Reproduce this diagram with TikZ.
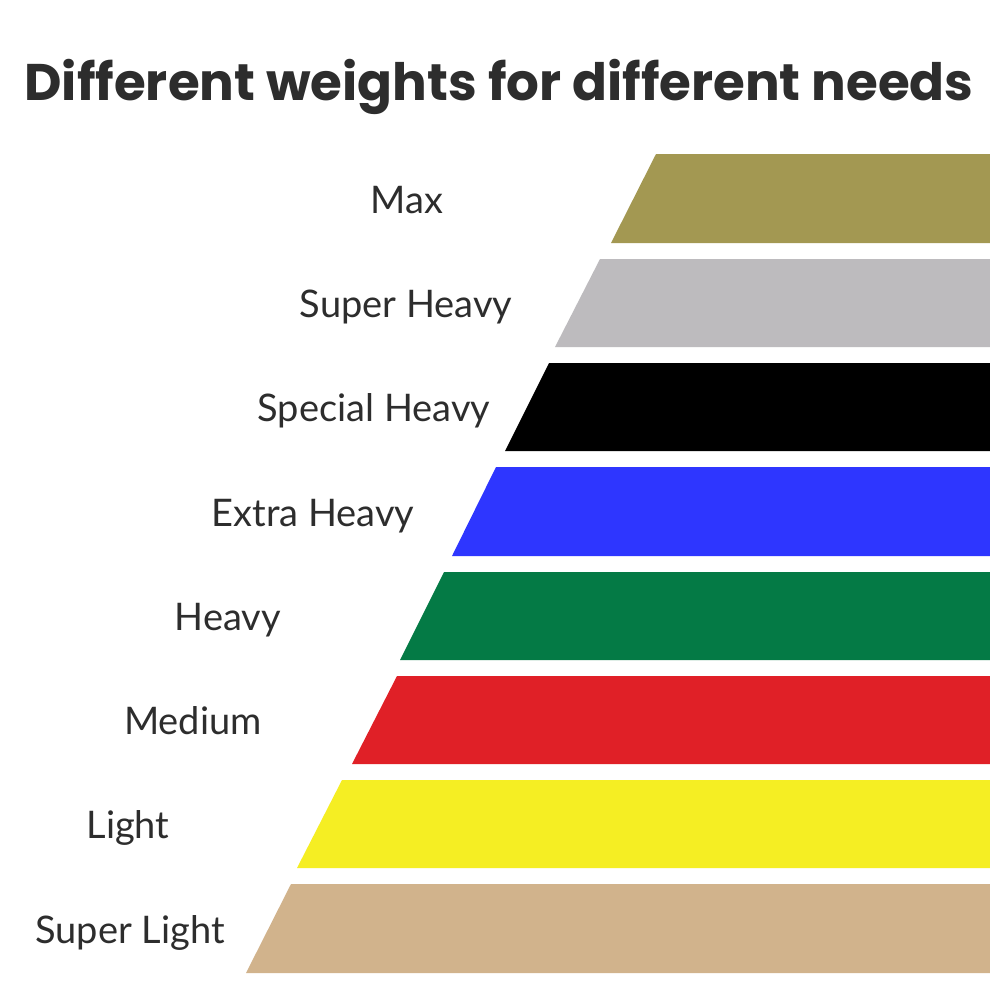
\documentclass[tikz,border=0pt]{standalone}
\usepackage{fontspec}
\setmainfont{Lato}
\newfontfamily\titlefont{Poppins}[UprightFont=* Bold]
\usetikzlibrary{positioning}
\definecolor{inkGray}{RGB}{45,45,45}
\definecolor{maxOlive}{RGB}{163,152,82}
\definecolor{superGray}{RGB}{189,187,190}
\definecolor{specialBlack}{RGB}{0,0,0}
\definecolor{extraBlue}{RGB}{46,54,255}
\definecolor{heavyGreen}{RGB}{4,122,69}
\definecolor{mediumRed}{RGB}{224,32,39}
\definecolor{lightYellow}{RGB}{245,238,35}
\definecolor{slightTan}{RGB}{209,179,140}

\begin{document}
\begin{tikzpicture}[
  x=1pt, y=-1pt,
  lbl/.style={
    anchor=base,
    text=inkGray,
    inner sep=0pt,
    font=\fontsize{38}{40}\selectfont,
  },
  band/.style={
    draw=none,
  },
]
  \useasboundingbox[fill=white] (0,0) rectangle (990,990);

  \node[anchor=base, text=inkGray, inner sep=0pt,
        font=\titlefont\fontsize{51.5}{54}\selectfont] (title) at (499,100)
    {Different weights for different needs};

  % bands, top to bottom
  \fill[band, maxOlive]     (656,154) -- (990,154) -- (990,243) -- (611,243) -- cycle;
  \fill[band, superGray]    (600,259) -- (990,259) -- (990,347) -- (555,347) -- cycle;
  \fill[band, specialBlack] (549,363) -- (990,363) -- (990,451) -- (505,451) -- cycle;
  \fill[band, extraBlue]    (496,467) -- (990,467) -- (990,556) -- (452,556) -- cycle;
  \fill[band, heavyGreen]   (444,572) -- (990,572) -- (990,660) -- (400,660) -- cycle;
  \fill[band, mediumRed]    (397,676) -- (990,676) -- (990,764) -- (352,764) -- cycle;
  \fill[band, lightYellow]  (342,780) -- (990,780) -- (990,868) -- (297,868) -- cycle;
  \fill[band, slightTan]    (291,884) -- (990,884) -- (990,973) -- (246,973) -- cycle;

  % labels
  \node[lbl] (max)     at (407,213) {Max};
  \node[lbl] (superh)  at (406,317) {Super Heavy};
  \node[lbl] (special) at (374,421) {Special Heavy};
  \node[lbl] (extra)   at (313,526) {Extra Heavy};
  \node[lbl] (heavy)   at (228,630) {Heavy};
  \node[lbl] (medium)  at (193,734) {Medium};
  \node[lbl] (light)   at (128,838) {Light};
  \node[lbl] (slight)  at (130,943) {Super Light};

\end{tikzpicture}
\end{document}
